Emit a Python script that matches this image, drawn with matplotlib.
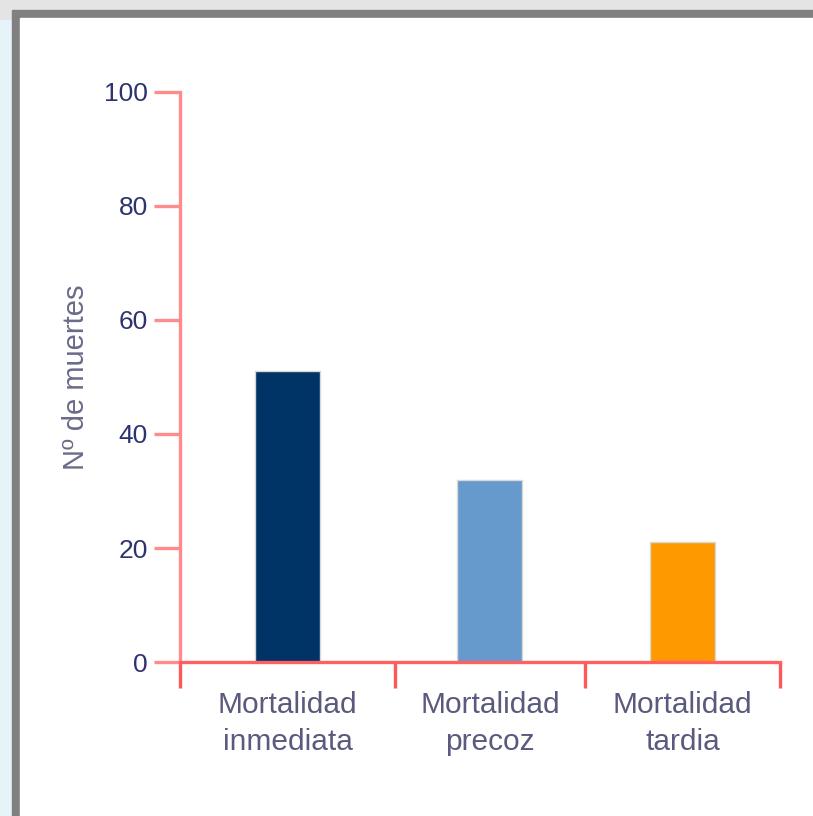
import matplotlib.pyplot as plt
from matplotlib.patches import Rectangle

categories = ['Mortalidad\ninmediata', 'Mortalidad\nprecoz', 'Mortalidad\ntardia']
deaths = [51, 32, 21]
bar_colors = ['#003366', '#6699cc', '#ff9900']
y_ticks = [0, 20, 40, 60, 80, 100]

# category boundaries (uneven widths, as in the original)
bounds = [0, 215, 405, 600]
centers = [(bounds[i] + bounds[i + 1]) / 2 for i in range(len(categories))]

plt.rcParams['font.family'] = ['Liberation Sans', 'DejaVu Sans']

fig = plt.figure(figsize=(8.13, 8.16), dpi=100)

# frame around the picture
fig.patches.append(Rectangle((0, 0), 1, 1, transform=fig.transFigure, color='#e4e4e4', zorder=-3))
fig.patches.append(Rectangle((0, 0), 0.014, 0.975, transform=fig.transFigure, color='#e6f3f8', zorder=-2))
fig.patches.append(Rectangle((0.015, 0), 1, 0.988, transform=fig.transFigure, color='#808080', zorder=-2))
fig.patches.append(Rectangle((0.025, 0), 1, 0.978, transform=fig.transFigure, color='white', zorder=-1))

ax = fig.add_axes([0.2214, 0.1887, 0.7380, 0.6986])
ax.patch.set_alpha(0)

ax.bar(centers, deaths, width=65, color=bar_colors, edgecolor='#d8d8d8', linewidth=1, zorder=2)

ax.set_xlim(bounds[0], bounds[-1])
ax.set_ylim(0, 100)

for s in ['top', 'right']:
    ax.spines[s].set_visible(False)
ax.spines['left'].set_color('#ff8c8c')
ax.spines['left'].set_linewidth(2.4)
ax.spines['bottom'].set_color('#ff6060')
ax.spines['bottom'].set_linewidth(2.4)
ax.spines['bottom'].set_zorder(3)

ax.set_yticks(y_ticks)
ax.set_yticklabels([str(v) for v in y_ticks])
ax.tick_params(axis='y', direction='out', length=19, width=2.4, color='#ff8c8c',
               labelsize=19, labelcolor='#2e3370', pad=4)

ax.set_xticks(centers)
ax.set_xticklabels(categories, linespacing=1.4)
ax.tick_params(axis='x', which='major', length=0, labelsize=21.5, labelcolor='#5a5a7e', pad=21)
ax.set_xticks(bounds, minor=True)
ax.tick_params(axis='x', which='minor', direction='out', length=19, width=2.4, color='#ff5858')

ax.set_ylabel('Nº de muertes', fontsize=21, color='#6a6a8a', labelpad=10)

fig.savefig('out.png', dpi=100)
